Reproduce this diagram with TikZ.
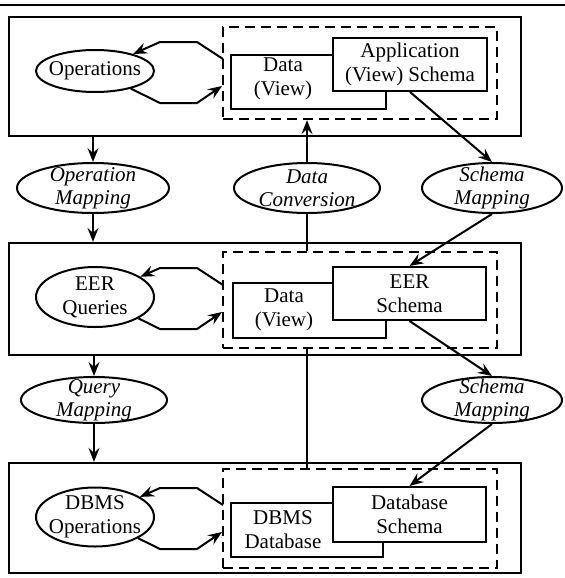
\documentclass[tikz,border=0pt]{standalone}
\usepackage{fontspec}
\setmainfont{Liberation Serif}
\usetikzlibrary{shapes.geometric,arrows.meta}

\tikzset{
  frame/.style={draw, line width=1.1pt, inner sep=0pt},
  dashframe/.style={draw, line width=1.1pt, dash pattern=on 5pt off 3pt, inner sep=0pt},
  store/.style={draw, fill=white, line width=1pt, inner sep=0pt},
  proc/.style={draw, ellipse, line width=1pt, inner sep=0pt},
  boxtext/.style={align=center, inner sep=0pt, font=\fontsize{10.5}{12}\selectfont},
  maptext/.style={align=center, inner sep=0pt, font=\fontsize{10.5}{11.5}\selectfont\itshape},
  arr/.style={-{Stealth[length=7pt,width=5.5pt,inset=2.5pt]}, line width=1pt},
}

\begin{document}
\begin{tikzpicture}[x=0.5pt,y=-0.5pt]
\useasboundingbox (0,0) rectangle (565,578);
\draw[line width=1.1pt] (0,5) -- (565,5);

% application level
\node[frame, minimum width=256pt, minimum height=59.5pt] (top) at (265,76.5) {};
\node[dashframe, minimum width=137pt, minimum height=46pt] (dash1) at (360,73) {};
\node[store, minimum width=77.5pt, minimum height=27pt] (data1) at (308.5,82) {};
\node[store, minimum width=77pt, minimum height=26.5pt] (app1) at (410,64.5) {};
\node[boxtext] (data1t) at (283,79) {Data\\(View)};
\node[boxtext] (app1t) at (app1) {Application\\(View) Schema};
\node[proc, minimum width=59pt, minimum height=21pt] (ops1) at (95,71) {};
\node[boxtext] (ops1t) at (ops1) {Operations};

% mappings between application and EER level
\node[proc, minimum width=76pt, minimum height=25pt] (opmap) at (93,188) {};
\node[maptext] (opmapt) at (opmap) {Operation\\Mapping};
\node[proc, minimum width=73pt, minimum height=25pt] (dconv) at (307,188) {};
\node[maptext] (dconvt) at (dconv) {Data\\Conversion};
\node[proc, minimum width=70pt, minimum height=25pt] (smap1) at (492,188) {};
\node[maptext] (smap1t) at (smap1) {Schema\\Mapping};

% EER level
\node[frame, minimum width=256pt, minimum height=56pt] (mid) at (265,299) {};
\node[dashframe, minimum width=137pt, minimum height=48pt] (dash2) at (360,300) {};
\node[store, minimum width=76.5pt, minimum height=27.5pt] (data2) at (309.5,310.5) {};
\node[store, minimum width=76.5pt, minimum height=26.5pt] (eer2) at (409.5,293.5) {};
\node[boxtext] (data2t) at (284,310) {Data\\(View)};
\node[boxtext] (eer2t) at (eer2) {EER\\Schema};
\node[proc, minimum width=59pt, minimum height=30pt] (eerq) at (95,297) {};
\node[boxtext] (eerqt) at (eerq) {EER\\Queries};

% mappings between EER and DBMS level
\node[proc, minimum width=73pt, minimum height=23pt] (qmap) at (94,400) {};
\node[maptext] (qmapt) at (qmap) {Query\\Mapping};
\node[proc, minimum width=70pt, minimum height=23pt] (smap2) at (492,400) {};
\node[maptext] (smap2t) at (smap2) {Schema\\Mapping};

% DBMS level
\node[frame, minimum width=256pt, minimum height=55pt] (low) at (265,518) {};
\node[dashframe, minimum width=137pt, minimum height=49.5pt] (dash3) at (360,518.5) {};
\node[store, minimum width=76pt, minimum height=27pt] (dbms) at (307,530) {};
\node[store, minimum width=76.5pt, minimum height=27.5pt] (dbs) at (409.5,514.5) {};
\node[boxtext] (dbmst) at (283,530) {DBMS\\Database};
\node[boxtext] (dbst) at (dbs) {Database\\Schema};
\node[proc, minimum width=59pt, minimum height=29.5pt] (dbmsop) at (95,517) {};
\node[boxtext] (dbmsopt) at (dbmsop) {DBMS\\Operations};

% connectors
\draw[arr] (top.south -| opmap.north) -- (opmap.north);
\draw[arr] (opmap.south) -- (opmap.south |- mid.north);
\draw[arr] (dconv.north) -- (dconv.north |- dash1.south);
\draw[line width=1pt] (dconv.south) -- (dconv.south |- dash2.north);
\draw[arr] (app1.south) -- (smap1.north);
\draw[arr] (smap1.south) -- (eer2.north);
\draw[arr] (mid.south -| qmap.north) -- (qmap.north);
\draw[arr] (qmap.south) -- (qmap.south |- low.north);
\draw[line width=1pt] (dash2.south -| dconv.south) -- (dash3.north -| dconv.south);
\draw[arr] (eer2.south) -- (smap2.north);
\draw[arr] (smap2.south) -- (dbs.north);

% loops between operations and data
\foreach \e in {ops1,eerq,dbmsop} {
  \draw[arr] ([shift={(128,-12)}]\e.center) -- ([shift={(102,-29)}]\e.center)
    -- ([shift={(65,-29)}]\e.center) -- (\e);
  \draw[arr] (\e) -- ([shift={(65,32)}]\e.center) -- ([shift={(102,32)}]\e.center)
    -- ([shift={(127,15)}]\e.center);
}
\end{tikzpicture}
\end{document}
